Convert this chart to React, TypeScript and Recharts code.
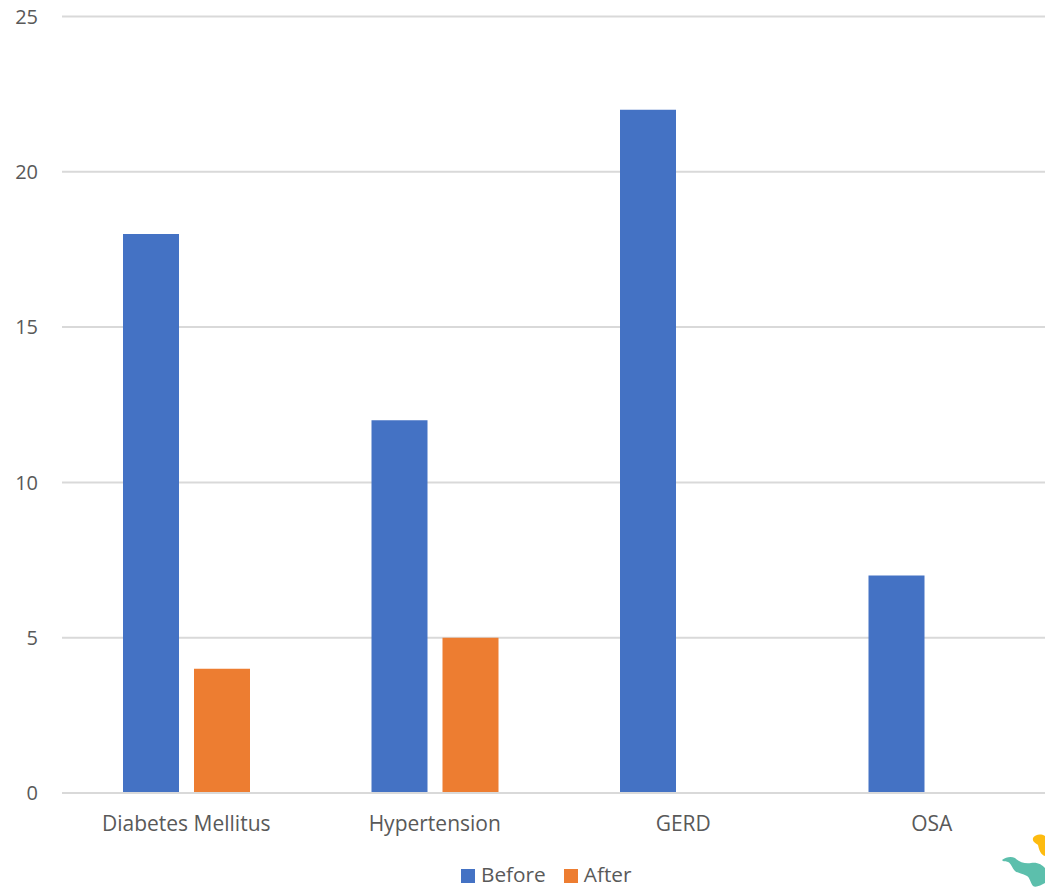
import React from 'react';
import { BarChart, Bar, XAxis, YAxis, CartesianGrid, Legend } from 'recharts';

const CATEGORIES = ['Diabetes Mellitus', 'Hypertension', 'GERD', 'OSA'];
const BEFORE = [18, 12, 22, 7];
const AFTER = [4, 5, null, null];
const Y_TICKS = [0, 5, 10, 15, 20, 25];

const data = CATEGORIES.map((name, i) => ({ name, Before: BEFORE[i], After: AFTER[i] }));

const FONT = '"Open Sans", "Noto Sans", sans-serif';
const X_TICK = { fill: '#595959', fontSize: 21, fontFamily: FONT };
const Y_TICK = { fill: '#595959', fontSize: 20, fontFamily: FONT };
const GRID = '#d9d9d9';

export default function App() {
    return (
        <div style={{ position: 'absolute', left: 0, top: 0, width: 1045, height: 888, overflow: 'hidden', background: '#fff' }}>
            <BarChart
                width={1056}
                height={888}
                data={data}
                barSize={56}
                barGap={15}
                margin={{ top: 16.5, right: 0, bottom: 0, left: 0 }}
            >
                <CartesianGrid vertical={false} stroke={GRID} strokeWidth={2} />
                <XAxis
                    dataKey="name"
                    height={69}
                    tick={X_TICK}
                    tickLine={false}
                    tickSize={0}
                    tickMargin={23}
                    axisLine={{ stroke: GRID, strokeWidth: 2 }}
                    interval={0}
                />
                <YAxis
                    width={62}
                    domain={[0, 25]}
                    ticks={Y_TICKS}
                    tick={Y_TICK}
                    tickLine={false}
                    tickSize={0}
                    tickMargin={24}
                    axisLine={false}
                />
                <Bar dataKey="Before" fill="#4472c4" isAnimationActive={false} />
                <Bar dataKey="After" fill="#ed7d31" isAnimationActive={false} />
                <Legend
                    layout="horizontal"
                    iconType="square"
                    iconSize={14}
                    itemSorter={null}
                    wrapperStyle={{
                        position: 'absolute',
                        left: 461,
                        top: 861,
                        width: 'auto',
                        height: 26,
                        lineHeight: '26px',
                        fontFamily: FONT,
                        fontSize: 20.8,
                    }}
                    formatter={(value: string) => (
                        <span style={{ color: '#595959', marginLeft: 2, marginRight: 8 }}>{value}</span>
                    )}
                />
            </BarChart>
            {/* small corner logo */}
            <svg width={1045} height={888} style={{ position: 'absolute', left: 0, top: 0, pointerEvents: 'none' }}>
                <path d="M1033 838 C1035 835 1040 833 1045 836 L1045 856 C1041 855 1039 850 1038 845 C1036 843 1032 842 1033 838 Z" fill="#fdbb10" />
                <path d="M1002 860 C1006 857 1011 856 1015 858 C1019 862 1025 864 1031 863 C1038 862 1042 865 1045 868 L1045 883 C1041 885 1036 888 1033 886 C1030 882 1030 878 1027 876 C1022 873 1017 873 1015 871 C1012 868 1011 863 1008 862 C1006 861 1003 862 1002 860 Z" fill="#5cbfac" />
            </svg>
        </div>
    );
}
